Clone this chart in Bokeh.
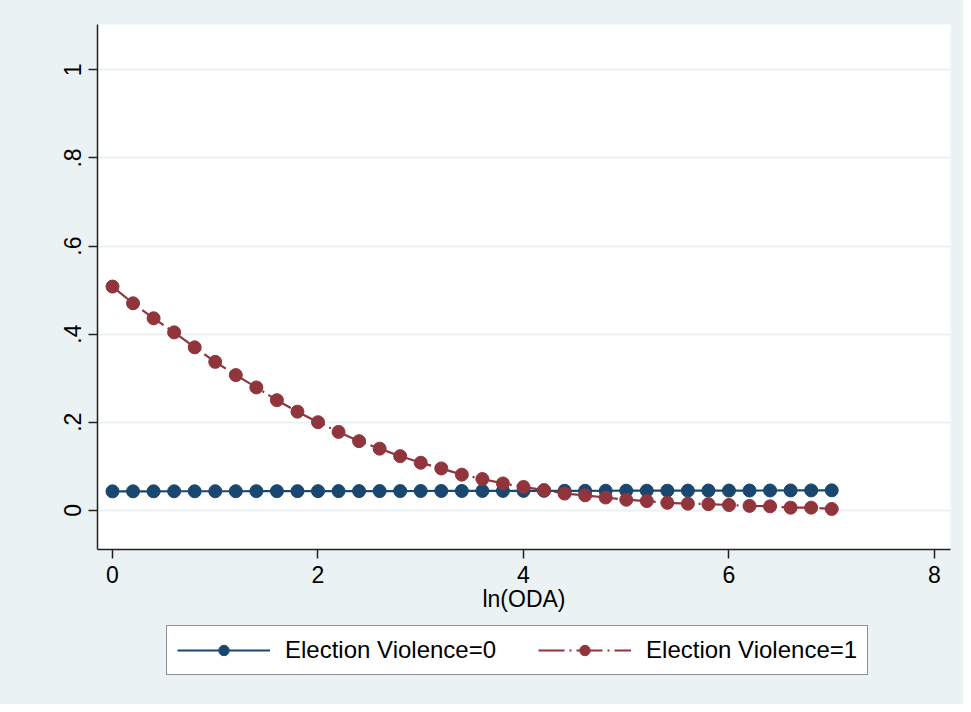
from bokeh.plotting import figure
from bokeh.layouts import column
from bokeh.models import Range1d, FixedTicker, Legend, LegendItem
from bokeh.embed import file_html
from bokeh.resources import INLINE

# ---- data ----
ln_oda = [0.0, 0.2, 0.4, 0.6, 0.8, 1.0, 1.2, 1.4, 1.6, 1.8,
          2.0, 2.2, 2.4, 2.6, 2.8, 3.0, 3.2, 3.4, 3.6, 3.8,
          4.0, 4.2, 4.4, 4.6, 4.8, 5.0, 5.2, 5.4, 5.6, 5.8,
          6.0, 6.2, 6.4, 6.6, 6.8, 7.0]
violence0 = [0.0430, 0.0431, 0.0431, 0.0432, 0.0432, 0.0433, 0.0433, 0.0434, 0.0434, 0.0435,
             0.0435, 0.0436, 0.0436, 0.0437, 0.0437, 0.0438, 0.0439, 0.0439, 0.0440, 0.0441,
             0.0441, 0.0442, 0.0443, 0.0443, 0.0444, 0.0445, 0.0445, 0.0446, 0.0447, 0.0448,
             0.0448, 0.0449, 0.0450, 0.0451, 0.0452, 0.0453]
violence1 = [0.508, 0.470, 0.436, 0.404, 0.370, 0.337, 0.307, 0.279, 0.250, 0.224,
             0.200, 0.178, 0.157, 0.140, 0.123, 0.108, 0.095, 0.081, 0.071, 0.061,
             0.053, 0.046, 0.038, 0.034, 0.029, 0.024, 0.021, 0.017, 0.015, 0.014,
             0.012, 0.010, 0.009, 0.006, 0.006, 0.003]
x_ticks = [0, 2, 4, 6, 8]
y_ticks = [0, 0.2, 0.4, 0.6, 0.8, 1.0]
y_tick_labels = ["0", ".2", ".4", ".6", ".8", "1"]
series_names = ["Election Violence=0", "Election Violence=1"]
x_title = "ln(ODA)"

BLUE = "#1a476f"
RED = "#90353b"
BG = "#eaf2f3"
FONT = "Liberation Sans"
DASH = "26 5 2 5"

# ---- main plot ----
p = figure(width=963, height=622, output_backend="svg", toolbar_location=None,
           x_range=Range1d(-0.146, 8.156), y_range=Range1d(-0.089, 1.103),
           min_border_left=97, min_border_right=13, min_border_top=24, min_border_bottom=73)
p.background_fill_color = "white"
p.border_fill_color = BG
p.outline_line_color = None

p.xgrid.visible = False
p.ygrid.ticker = FixedTicker(ticks=y_ticks)
p.ygrid.grid_line_color = BG
p.ygrid.grid_line_width = 2

for ax in (p.xaxis[0], p.yaxis[0]):
    ax.axis_line_color = "#222222"
    ax.axis_line_width = 1.5
    ax.major_tick_line_color = "#222222"
    ax.major_tick_line_width = 1.5
    ax.major_tick_out = 9
    ax.major_tick_in = 0
    ax.minor_tick_line_color = None
    ax.major_label_text_font = FONT
    ax.major_label_text_font_size = "23px"
    ax.major_label_text_color = "black"

p.xaxis.ticker = FixedTicker(ticks=x_ticks)
p.xaxis.major_label_standoff = 7
p.xaxis.axis_label = x_title
p.xaxis.axis_label_text_font = FONT
p.xaxis.axis_label_text_font_size = "23px"
p.xaxis.axis_label_text_font_style = "normal"
p.xaxis.axis_label_text_color = "black"
p.xaxis.axis_label_standoff = 0

p.yaxis.ticker = FixedTicker(ticks=y_ticks)
p.yaxis.major_label_overrides = {t: l for t, l in zip(y_ticks, y_tick_labels)}
p.yaxis.major_label_orientation = "vertical"
p.yaxis.major_label_standoff = 7

p.line(ln_oda, violence0, line_color=BLUE, line_width=2.2)
p.scatter(ln_oda, violence0, size=13, fill_color=BLUE, line_color=BLUE)
p.line(ln_oda, violence1, line_color=RED, line_width=2.2, line_dash=DASH)
p.scatter(ln_oda, violence1, size=13, fill_color=RED, line_color=RED)

# ---- legend strip (same series, drawn out of view; only the legend shows) ----
lg = figure(width=963, height=82, output_backend="svg", toolbar_location=None,
            x_range=Range1d(-0.146, 8.156), y_range=Range1d(10, 11),
            x_axis_type=None, y_axis_type=None,
            min_border_left=97, min_border_right=13, min_border_top=0, min_border_bottom=0)
lg.background_fill_color = BG
lg.border_fill_color = BG
lg.outline_line_color = None
lg.grid.visible = False

m0l = lg.line(ln_oda, violence0, line_color=BLUE, line_width=2.2)
m0s = lg.scatter(ln_oda, violence0, size=13, fill_color=BLUE, line_color=BLUE)
m1l = lg.line(ln_oda, violence1, line_color=RED, line_width=2.2, line_dash=DASH)
m1s = lg.scatter(ln_oda, violence1, size=13, fill_color=RED, line_color=RED)

legend = Legend(items=[LegendItem(label=series_names[0], renderers=[m0l, m0s]),
                       LegendItem(label=series_names[1], renderers=[m1l, m1s])],
                orientation="horizontal", location=(69, 29),
                label_text_font=FONT, label_text_font_size="24px",
                label_text_color="black",
                glyph_width=93, glyph_height=26, label_height=26,
                label_standoff=15, spacing=42, padding=10, margin=0,
                border_line_color="#222222", border_line_width=1.2,
                background_fill_color="white", background_fill_alpha=1.0)
lg.add_layout(legend, "center")

layout = column(p, lg, spacing=0, background=BG)
open("out.html", "w").write(file_html(layout, INLINE))
